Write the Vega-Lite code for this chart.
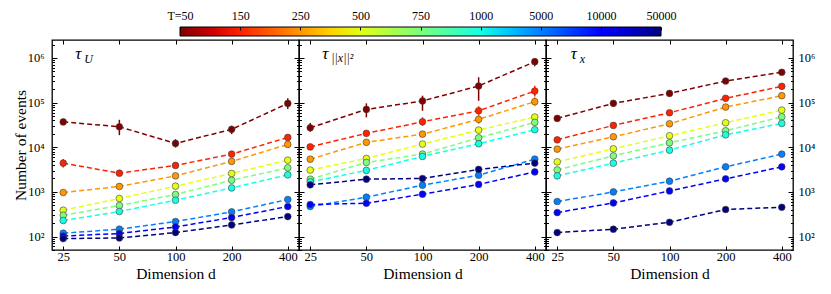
{
  "$schema": "https://vega.github.io/schema/vega-lite/v6.json",
  "autosize": {"type": "pad"},
  "padding": {"left": 12, "top": 9, "right": 13, "bottom": 12},
  "background": "white",
  "spacing": 4,
  "bounds": "flush",
  "data": {"values": [
    {"p":"U","i":0,"d":25,"n":37000},
    {"p":"U","i":0,"d":50,"n":28800,"lo":18700,"hi":41300},
    {"p":"U","i":0,"d":100,"n":12200,"lo":9900,"hi":15200},
    {"p":"U","i":0,"d":200,"n":25200,"lo":19700,"hi":30300},
    {"p":"U","i":0,"d":400,"n":96000,"lo":72000,"hi":125000},
    {"p":"U","i":1,"d":25,"n":4420,"lo":3530,"hi":5440},
    {"p":"U","i":1,"d":50,"n":2630},
    {"p":"U","i":1,"d":100,"n":3920},
    {"p":"U","i":1,"d":200,"n":7030},
    {"p":"U","i":1,"d":400,"n":16600},
    {"p":"U","i":2,"d":25,"n":970},
    {"p":"U","i":2,"d":50,"n":1325},
    {"p":"U","i":2,"d":100,"n":2290},
    {"p":"U","i":2,"d":200,"n":4820},
    {"p":"U","i":2,"d":400,"n":11600},
    {"p":"U","i":3,"d":25,"n":389},
    {"p":"U","i":3,"d":50,"n":713},
    {"p":"U","i":3,"d":100,"n":1345},
    {"p":"U","i":3,"d":200,"n":2590},
    {"p":"U","i":3,"d":400,"n":5150},
    {"p":"U","i":4,"d":25,"n":300},
    {"p":"U","i":4,"d":50,"n":496},
    {"p":"U","i":4,"d":100,"n":875},
    {"p":"U","i":4,"d":200,"n":1830},
    {"p":"U","i":4,"d":400,"n":3460},
    {"p":"U","i":5,"d":25,"n":229},
    {"p":"U","i":5,"d":50,"n":364},
    {"p":"U","i":5,"d":100,"n":652},
    {"p":"U","i":5,"d":200,"n":1230},
    {"p":"U","i":5,"d":400,"n":2410},
    {"p":"U","i":6,"d":25,"n":119},
    {"p":"U","i":6,"d":50,"n":146},
    {"p":"U","i":6,"d":100,"n":217},
    {"p":"U","i":6,"d":200,"n":357},
    {"p":"U","i":6,"d":400,"n":676},
    {"p":"U","i":7,"d":25,"n":103},
    {"p":"U","i":7,"d":50,"n":117},
    {"p":"U","i":7,"d":100,"n":164},
    {"p":"U","i":7,"d":200,"n":267},
    {"p":"U","i":7,"d":400,"n":471},
    {"p":"U","i":8,"d":25,"n":90},
    {"p":"U","i":8,"d":50,"n":93},
    {"p":"U","i":8,"d":100,"n":123},
    {"p":"U","i":8,"d":200,"n":182},
    {"p":"U","i":8,"d":400,"n":281},

    {"p":"X2","i":0,"d":25,"n":27400,"lo":22200,"hi":34800},
    {"p":"X2","i":0,"d":50,"n":70600,"lo":46800,"hi":96400},
    {"p":"X2","i":0,"d":100,"n":109000,"lo":65800,"hi":143000},
    {"p":"X2","i":0,"d":200,"n":236000,"lo":110000,"hi":370000},
    {"p":"X2","i":0,"d":400,"n":826000,"lo":652000,"hi":987000},
    {"p":"X2","i":1,"d":25,"n":10200},
    {"p":"X2","i":1,"d":50,"n":20500},
    {"p":"X2","i":1,"d":100,"n":37200,"lo":30300,"hi":46800},
    {"p":"X2","i":1,"d":200,"n":65800,"lo":50800,"hi":82600},
    {"p":"X2","i":1,"d":400,"n":182000,"lo":138000,"hi":239000},
    {"p":"X2","i":2,"d":25,"n":5420},
    {"p":"X2","i":2,"d":50,"n":12900},
    {"p":"X2","i":2,"d":100,"n":19700},
    {"p":"X2","i":2,"d":200,"n":42200,"lo":33100,"hi":50800},
    {"p":"X2","i":2,"d":400,"n":105000,"lo":82600,"hi":131500},
    {"p":"X2","i":3,"d":25,"n":3080},
    {"p":"X2","i":3,"d":50,"n":5620},
    {"p":"X2","i":3,"d":100,"n":11800},
    {"p":"X2","i":3,"d":200,"n":24300},
    {"p":"X2","i":3,"d":400,"n":47500},
    {"p":"X2","i":4,"d":25,"n":1930},
    {"p":"X2","i":4,"d":50,"n":4570},
    {"p":"X2","i":4,"d":100,"n":7030},
    {"p":"X2","i":4,"d":200,"n":16300},
    {"p":"X2","i":4,"d":400,"n":36100},
    {"p":"X2","i":5,"d":25,"n":1680},
    {"p":"X2","i":5,"d":50,"n":3030},
    {"p":"X2","i":5,"d":100,"n":6240},
    {"p":"X2","i":5,"d":200,"n":12000},
    {"p":"X2","i":5,"d":400,"n":24700},
    {"p":"X2","i":6,"d":25,"n":471},
    {"p":"X2","i":6,"d":50,"n":762},
    {"p":"X2","i":6,"d":100,"n":1415},
    {"p":"X2","i":6,"d":200,"n":2370},
    {"p":"X2","i":6,"d":400,"n":5420},
    {"p":"X2","i":7,"d":25,"n":522},
    {"p":"X2","i":7,"d":50,"n":558},
    {"p":"X2","i":7,"d":100,"n":889},
    {"p":"X2","i":7,"d":200,"n":1470},
    {"p":"X2","i":7,"d":400,"n":2810},
    {"p":"X2","i":8,"d":25,"n":1440},
    {"p":"X2","i":8,"d":50,"n":1930},
    {"p":"X2","i":8,"d":100,"n":2000},
    {"p":"X2","i":8,"d":200,"n":3190},
    {"p":"X2","i":8,"d":400,"n":4420},

    {"p":"X","i":0,"d":25,"n":44400},
    {"p":"X","i":0,"d":50,"n":96400,"lo":82000,"hi":112000},
    {"p":"X","i":0,"d":100,"n":161000},
    {"p":"X","i":0,"d":200,"n":305000},
    {"p":"X","i":0,"d":400,"n":479000},
    {"p":"X","i":1,"d":25,"n":14700},
    {"p":"X","i":1,"d":50,"n":30900},
    {"p":"X","i":1,"d":100,"n":59300},
    {"p":"X","i":1,"d":200,"n":125000},
    {"p":"X","i":1,"d":400,"n":232000},
    {"p":"X","i":2,"d":25,"n":9100},
    {"p":"X","i":2,"d":50,"n":17200},
    {"p":"X","i":2,"d":100,"n":33600},
    {"p":"X","i":2,"d":200,"n":79600},
    {"p":"X","i":2,"d":400,"n":143000},
    {"p":"X","i":3,"d":25,"n":4720},
    {"p":"X","i":3,"d":50,"n":9230},
    {"p":"X","i":3,"d":100,"n":18100},
    {"p":"X","i":3,"d":200,"n":35400},
    {"p":"X","i":3,"d":400,"n":68200},
    {"p":"X","i":4,"d":25,"n":3120},
    {"p":"X","i":4,"d":50,"n":6430},
    {"p":"X","i":4,"d":100,"n":12600},
    {"p":"X","i":4,"d":200,"n":23400},
    {"p":"X","i":4,"d":400,"n":48200},
    {"p":"X","i":5,"d":25,"n":2290},
    {"p":"X","i":5,"d":50,"n":4420},
    {"p":"X","i":5,"d":100,"n":8630},
    {"p":"X","i":5,"d":200,"n":19000},
    {"p":"X","i":5,"d":400,"n":34300},
    {"p":"X","i":6,"d":25,"n":610},
    {"p":"X","i":6,"d":50,"n":1000},
    {"p":"X","i":6,"d":100,"n":1740},
    {"p":"X","i":6,"d":200,"n":3650},
    {"p":"X","i":6,"d":400,"n":7030},
    {"p":"X","i":7,"d":25,"n":345},
    {"p":"X","i":7,"d":50,"n":567},
    {"p":"X","i":7,"d":100,"n":1050},
    {"p":"X","i":7,"d":200,"n":1960},
    {"p":"X","i":7,"d":400,"n":3650},
    {"p":"X","i":8,"d":25,"n":123},
    {"p":"X","i":8,"d":50,"n":146},
    {"p":"X","i":8,"d":100,"n":209},
    {"p":"X","i":8,"d":200,"n":404},
    {"p":"X","i":8,"d":400,"n":454}
  ]},
  "config": {
    "view": {"stroke": "black", "strokeWidth": 1.3},
    "axis": {"grid": false, "domain": false, "tickColor": "black", "tickWidth": 1, "labelFont": "Liberation Serif", "labelFontSize": 12.5, "labelColor": "black", "titleFont": "Liberation Serif", "titleFontSize": 15.5, "titleFontWeight": "normal", "titleColor": "black"},
    "text": {"font": "Liberation Serif", "fontStyle": "italic", "color": "black"}
  },
  "vconcat": [
    {
      "width": 741, "height": 9,
      "view": {"stroke": null},
      "data": {"values": [{}]},
      "mark": {"type": "rect", "stroke": "black", "strokeWidth": 1, "fill": {"gradient": "linear", "x1": 0, "x2": 1, "y1": 0, "y2": 0, "stops": [
        {"offset": 0, "color": "#800000"}, {"offset": 0.0625, "color": "#c80000"}, {"offset": 0.125, "color": "#ff2100"}, {"offset": 0.1875, "color": "#ff5c00"}, {"offset": 0.25, "color": "#ff9700"}, {"offset": 0.3125, "color": "#ffd200"}, {"offset": 0.375, "color": "#e2ff15"}, {"offset": 0.4375, "color": "#afff48"}, {"offset": 0.5, "color": "#7bff7b"}, {"offset": 0.5625, "color": "#48ffaf"}, {"offset": 0.625, "color": "#15ffe2"}, {"offset": 0.6875, "color": "#00c0ff"}, {"offset": 0.75, "color": "#0080ff"}, {"offset": 0.8125, "color": "#0040ff"}, {"offset": 0.875, "color": "#0000ff"}, {"offset": 0.9375, "color": "#0000c8"}, {"offset": 1, "color": "#000080"}]}},
      "encoding": {
        "x": {"datum": 0, "type": "quantitative", "scale": {"domain": [-2.129, 10.195], "nice": false, "zero": false}, "axis": {"orient": "top", "values": [0,1,2,3,4,5,6,7,8], "labelExpr": "['T=50','150','250','500','750','1000','5000','10000','50000'][datum.value]", "labelOverlap": false, "labelFlush": false, "labelFontSize": 12, "tickSize": -3, "tickWidth": 1, "labelPadding": 8, "title": null, "zindex": 1}},
        "x2": {"datum": 8},
        "y": {"value": 0},
        "y2": {"value": 9}
      }
    },
    {
      "spacing": 0,
      "bounds": "flush",
      "hconcat": [
        {
          "width": 247, "height": 210,
          "layer": [
            {"transform": [{"filter": "datum.p=='U' && isValid(datum.lo)"}],
             "mark": {"type": "rule", "strokeWidth": 1.5},
             "encoding": {
               "x": {"field": "d", "type": "quantitative", "scale": {"type": "log", "domain": [21.76, 459.5], "nice": false}, "axis": {"orient": "bottom", "values": [25,50,100,200,400], "format": "d", "tickSize": -4, "labelPadding": 4, "labelOverlap": false, "title": "Dimension d", "titleX": 123.5, "titleY": 28, "titleBaseline": "alphabetic", "titleAlign": "center"}},
               "y": {"field": "lo", "type": "quantitative", "scale": {"type": "log", "domain": [50, 2530000], "nice": false}, "axis": {"orient": "left", "values": [50,60,70,80,90,100,200,300,400,500,600,700,800,900,1000,2000,3000,4000,5000,6000,7000,8000,9000,10000,20000,30000,40000,50000,60000,70000,80000,90000,100000,200000,300000,400000,500000,600000,700000,800000,900000,1000000,2000000], "labelExpr": "datum.value==100?'10²':datum.value==1000?'10³':datum.value==10000?'10⁴':datum.value==100000?'10⁵':datum.value==1000000?'10⁶':''", "labelOverlap": false, "tickSize": {"condition": {"test": "datum.value==100||datum.value==1000||datum.value==10000||datum.value==100000||datum.value==1000000", "value": -5}, "value": -2.5}, "labelPadding": 13, "title": "Number of events", "titleX": -39, "titleY": 105, "titleAngle": -90, "titleAlign": "center", "titleBaseline": "top"}},
               "y2": {"field": "hi"},
               "color": {"field": "i", "type": "quantitative", "scale": {"domain": [0, 8], "range": ["#800000","#c80000","#ff2100","#ff5c00","#ff9700","#ffd200","#e2ff15","#afff48","#7bff7b","#48ffaf","#15ffe2","#00c0ff","#0080ff","#0040ff","#0000ff","#0000c8","#000080"], "interpolate": "rgb"}, "legend": null}
             }},
            {"transform": [{"filter": "datum.p=='U'"}],
             "mark": {"type": "line", "strokeDash": [5, 3], "strokeWidth": 1.5},
             "encoding": {
               "x": {"field": "d", "type": "quantitative", "axis": {"orient": "top", "values": [25,50,100,200,400], "labels": false, "tickSize": -4, "title": null}},
               "y": {"field": "n", "type": "quantitative", "axis": {"orient": "right", "values": [50,60,70,80,90,100,200,300,400,500,600,700,800,900,1000,2000,3000,4000,5000,6000,7000,8000,9000,10000,20000,30000,40000,50000,60000,70000,80000,90000,100000,200000,300000,400000,500000,600000,700000,800000,900000,1000000,2000000], "labels": false, "tickSize": {"condition": {"test": "datum.value==100||datum.value==1000||datum.value==10000||datum.value==100000||datum.value==1000000", "value": -5}, "value": -2.5}, "title": null}},
               "color": {"field": "i", "type": "quantitative", "legend": null},
               "detail": {"field": "i"}
             }},
            {"transform": [{"filter": "datum.p=='U'"}],
             "mark": {"type": "point", "filled": true, "size": 45, "stroke": "#404040", "strokeWidth": 0.6, "opacity": 1},
             "encoding": {
               "x": {"field": "d", "type": "quantitative", "axis": null},
               "y": {"field": "n", "type": "quantitative", "axis": null},
               "color": {"field": "i", "type": "quantitative", "legend": null}
             }},
            {"data": {"values": [{}]},
             "mark": {"type": "text", "text": "τ", "fontSize": 17, "align": "left", "baseline": "alphabetic"},
             "encoding": {"x": {"datum": 29, "axis": null}, "y": {"datum": 950000, "axis": null}}},
            {"data": {"values": [{}]},
             "mark": {"type": "text", "text": "U", "fontSize": 12, "align": "left", "baseline": "alphabetic", "dx": 9, "dy": 4},
             "encoding": {"x": {"datum": 29, "axis": null}, "y": {"datum": 950000, "axis": null}}}
          ],
          "resolve": {"axis": {"x": "independent", "y": "independent"}}
        },
        {
          "width": 247, "height": 210,
          "layer": [
            {"transform": [{"filter": "datum.p=='X2' && isValid(datum.lo)"}],
             "mark": {"type": "rule", "strokeWidth": 1.5},
             "encoding": {
               "x": {"field": "d", "type": "quantitative", "scale": {"type": "log", "domain": [21.76, 459.5], "nice": false}, "axis": {"orient": "bottom", "values": [25,50,100,200,400], "format": "d", "tickSize": -4, "labelPadding": 4, "labelOverlap": false, "title": "Dimension d", "titleX": 123.5, "titleY": 28, "titleBaseline": "alphabetic", "titleAlign": "center"}},
               "y": {"field": "lo", "type": "quantitative", "scale": {"type": "log", "domain": [50, 2530000], "nice": false}, "axis": {"orient": "left", "values": [50,60,70,80,90,100,200,300,400,500,600,700,800,900,1000,2000,3000,4000,5000,6000,7000,8000,9000,10000,20000,30000,40000,50000,60000,70000,80000,90000,100000,200000,300000,400000,500000,600000,700000,800000,900000,1000000,2000000], "labels": false, "tickSize": {"condition": {"test": "datum.value==100||datum.value==1000||datum.value==10000||datum.value==100000||datum.value==1000000", "value": -5}, "value": -2.5}, "title": null}},
               "y2": {"field": "hi"},
               "color": {"field": "i", "type": "quantitative", "legend": null}
             }},
            {"transform": [{"filter": "datum.p=='X2'"}],
             "mark": {"type": "line", "strokeDash": [5, 3], "strokeWidth": 1.5},
             "encoding": {
               "x": {"field": "d", "type": "quantitative", "axis": {"orient": "top", "values": [25,50,100,200,400], "labels": false, "tickSize": -4, "title": null}},
               "y": {"field": "n", "type": "quantitative", "axis": {"orient": "right", "values": [50,60,70,80,90,100,200,300,400,500,600,700,800,900,1000,2000,3000,4000,5000,6000,7000,8000,9000,10000,20000,30000,40000,50000,60000,70000,80000,90000,100000,200000,300000,400000,500000,600000,700000,800000,900000,1000000,2000000], "labels": false, "tickSize": {"condition": {"test": "datum.value==100||datum.value==1000||datum.value==10000||datum.value==100000||datum.value==1000000", "value": -5}, "value": -2.5}, "title": null}},
               "color": {"field": "i", "type": "quantitative", "legend": null},
               "detail": {"field": "i"}
             }},
            {"transform": [{"filter": "datum.p=='X2'"}],
             "mark": {"type": "point", "filled": true, "size": 45, "stroke": "#404040", "strokeWidth": 0.6, "opacity": 1},
             "encoding": {
               "x": {"field": "d", "type": "quantitative", "axis": null},
               "y": {"field": "n", "type": "quantitative", "axis": null},
               "color": {"field": "i", "type": "quantitative", "legend": null}
             }},
            {"data": {"values": [{}]},
             "mark": {"type": "text", "text": "τ", "fontSize": 17, "align": "left", "baseline": "alphabetic"},
             "encoding": {"x": {"datum": 29, "axis": null}, "y": {"datum": 950000, "axis": null}}},
            {"data": {"values": [{}]},
             "mark": {"type": "text", "text": "||x||²", "fontSize": 12, "align": "left", "baseline": "alphabetic", "dx": 9, "dy": 3},
             "encoding": {"x": {"datum": 29, "axis": null}, "y": {"datum": 950000, "axis": null}}}
          ],
          "resolve": {"axis": {"x": "independent", "y": "independent"}}
        },
        {
          "width": 247, "height": 210,
          "layer": [
            {"transform": [{"filter": "datum.p=='X' && isValid(datum.lo)"}],
             "mark": {"type": "rule", "strokeWidth": 1.5},
             "encoding": {
               "x": {"field": "d", "type": "quantitative", "scale": {"type": "log", "domain": [21.76, 459.5], "nice": false}, "axis": {"orient": "bottom", "values": [25,50,100,200,400], "format": "d", "tickSize": -4, "labelPadding": 4, "labelOverlap": false, "title": "Dimension d", "titleX": 123.5, "titleY": 28, "titleBaseline": "alphabetic", "titleAlign": "center"}},
               "y": {"field": "lo", "type": "quantitative", "scale": {"type": "log", "domain": [50, 2530000], "nice": false}, "axis": {"orient": "left", "values": [50,60,70,80,90,100,200,300,400,500,600,700,800,900,1000,2000,3000,4000,5000,6000,7000,8000,9000,10000,20000,30000,40000,50000,60000,70000,80000,90000,100000,200000,300000,400000,500000,600000,700000,800000,900000,1000000,2000000], "labels": false, "tickSize": {"condition": {"test": "datum.value==100||datum.value==1000||datum.value==10000||datum.value==100000||datum.value==1000000", "value": -5}, "value": -2.5}, "title": null}},
               "y2": {"field": "hi"},
               "color": {"field": "i", "type": "quantitative", "legend": null}
             }},
            {"transform": [{"filter": "datum.p=='X'"}],
             "mark": {"type": "line", "strokeDash": [5, 3], "strokeWidth": 1.5},
             "encoding": {
               "x": {"field": "d", "type": "quantitative", "axis": {"orient": "top", "values": [25,50,100,200,400], "labels": false, "tickSize": -4, "title": null}},
               "y": {"field": "n", "type": "quantitative", "axis": {"orient": "right", "values": [50,60,70,80,90,100,200,300,400,500,600,700,800,900,1000,2000,3000,4000,5000,6000,7000,8000,9000,10000,20000,30000,40000,50000,60000,70000,80000,90000,100000,200000,300000,400000,500000,600000,700000,800000,900000,1000000,2000000], "labelExpr": "datum.value==100?'10²':datum.value==1000?'10³':datum.value==10000?'10⁴':datum.value==100000?'10⁵':datum.value==1000000?'10⁶':''", "labelOverlap": false, "labelPadding": 10, "tickSize": {"condition": {"test": "datum.value==100||datum.value==1000||datum.value==10000||datum.value==100000||datum.value==1000000", "value": -5}, "value": -2.5}, "title": null}},
               "color": {"field": "i", "type": "quantitative", "legend": null},
               "detail": {"field": "i"}
             }},
            {"transform": [{"filter": "datum.p=='X'"}],
             "mark": {"type": "point", "filled": true, "size": 45, "stroke": "#404040", "strokeWidth": 0.6, "opacity": 1},
             "encoding": {
               "x": {"field": "d", "type": "quantitative", "axis": null},
               "y": {"field": "n", "type": "quantitative", "axis": null},
               "color": {"field": "i", "type": "quantitative", "legend": null}
             }},
            {"data": {"values": [{}]},
             "mark": {"type": "text", "text": "τ", "fontSize": 17, "align": "left", "baseline": "alphabetic"},
             "encoding": {"x": {"datum": 29.5, "axis": null}, "y": {"datum": 950000, "axis": null}}},
            {"data": {"values": [{}]},
             "mark": {"type": "text", "text": "x", "fontSize": 12, "align": "left", "baseline": "alphabetic", "dx": 9, "dy": 4},
             "encoding": {"x": {"datum": 29.5, "axis": null}, "y": {"datum": 950000, "axis": null}}}
          ],
          "resolve": {"axis": {"x": "independent", "y": "independent"}}
        }
      ]
    }
  ]
}
